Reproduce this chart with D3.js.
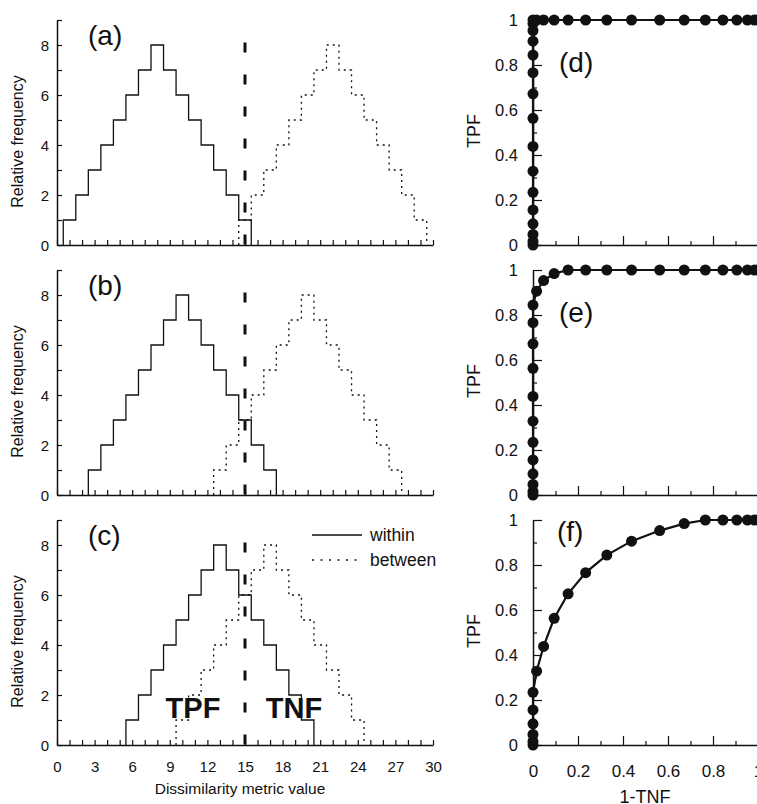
<!DOCTYPE html>
<html>
<head>
<meta charset="utf-8">
<script src="https://cdn.jsdelivr.net/npm/d3@7"></script>
<style>
  html, body { margin: 0; padding: 0; background: #fff; }
  svg { display: block; }
  text { font-family: "Liberation Sans", Arial, sans-serif; fill: #111; }
</style>
</head>
<body>
<svg id="fig" width="757" height="804"></svg>
<script>
// Histogram counts for bins centred on 0..30 (bin width 1)
const binCenters = [0,1,2,3,4,5,6,7,8,9,10,11,12,13,14,15,16,17,18,19,20,21,22,23,24,25,26,27,28,29,30];
const withinA  = [0,1,2,3,4,5,6,7,8,7,6,5,4,3,2,1,0,0,0,0,0,0,0,0,0,0,0,0,0,0,0];
const betweenA = [0,0,0,0,0,0,0,0,0,0,0,0,0,0,0,1,2,3,4,5,6,7,8,7,6,5,4,3,2,1,0];
const withinB  = [0,0,0,1,2,3,4,5,6,7,8,7,6,5,4,3,2,1,0,0,0,0,0,0,0,0,0,0,0,0,0];
const betweenB = [0,0,0,0,0,0,0,0,0,0,0,0,0,1,2,3,4,5,6,7,8,7,6,5,4,3,2,1,0,0,0];
const withinC  = [0,0,0,0,0,0,1,2,3,4,5,6,7,8,7,6,5,4,3,2,1,0,0,0,0,0,0,0,0,0,0];
const betweenC = [0,0,0,0,0,0,0,0,0,0,1,2,3,4,5,6,7,8,7,6,5,4,3,2,1,0,0,0,0,0,0];
const threshold = 15;

// ROC points: 1-TNF (x) and TPF (y)
const rocD_x = [0,0,0,0,0,0,0,0,0,0,0,0,0,0,0,0,0.016,0.047,0.094,0.156,0.234,0.328,0.438,0.563,0.672,0.766,0.844,0.906,0.953,0.984,1];
const rocD_y = [0,0.016,0.047,0.094,0.156,0.234,0.328,0.438,0.563,0.672,0.766,0.844,0.906,0.953,0.984,1,1,1,1,1,1,1,1,1,1,1,1,1,1,1,1];
const rocE_x = [0,0,0,0,0,0,0,0,0,0,0,0,0.016,0.047,0.094,0.156,0.234,0.328,0.438,0.563,0.672,0.766,0.844,0.906,0.953,0.984,1];
const rocE_y = [0,0.016,0.047,0.094,0.156,0.234,0.328,0.438,0.563,0.672,0.766,0.844,0.906,0.953,0.984,1,1,1,1,1,1,1,1,1,1,1,1];
const rocF_x = [0,0,0,0,0,0,0.016,0.047,0.094,0.156,0.234,0.328,0.438,0.563,0.672,0.766,0.844,0.906,0.953,0.984,1];
const rocF_y = [0,0.016,0.047,0.094,0.156,0.234,0.328,0.438,0.563,0.672,0.766,0.844,0.906,0.953,0.984,1,1,1,1,1,1];

const histXTicks = [0,3,6,9,12,15,18,21,24,27,30];
const histYTicks = [0,2,4,6,8];
const rocTicks = [0,0.2,0.4,0.6,0.8,1];

const panelsLeft = [
  {label: "(a)", within: withinA, between: betweenA, top: 0,   xLabels: false},
  {label: "(b)", within: withinB, between: betweenB, top: 250, xLabels: false},
  {label: "(c)", within: withinC, between: betweenC, top: 500, xLabels: true}
];
const panelsRight = [
  {label: "(d)", xs: rocD_x, ys: rocD_y, top: 0,   xLabels: false, lx: 559, ly: 72},
  {label: "(e)", xs: rocE_x, ys: rocE_y, top: 250, xLabels: false, lx: 559, ly: 322},
  {label: "(f)", xs: rocF_x, ys: rocF_y, top: 500, xLabels: true,  lx: 557, ly: 541}
];

const svg = d3.select("#fig");
const x = d3.scaleLinear().domain([0, 30]).range([57, 433]);
const xr = d3.scaleLinear().domain([0, 1]).range([533, 758]);

// Step outline of a histogram over its non-zero bins
function stepPath(counts, y) {
  const idx = counts.map((v, i) => i).filter(i => counts[i] > 0);
  const first = idx[0], last = idx[idx.length - 1];
  let p = d3.path();
  p.moveTo(x(binCenters[first] - 0.5), y(0));
  for (let i = first; i <= last; i++) {
    p.lineTo(x(binCenters[i] - 0.5), y(counts[i]));
    p.lineTo(x(binCenters[i] + 0.5), y(counts[i]));
  }
  p.lineTo(x(binCenters[last] + 0.5), y(0));
  return p.toString();
}

panelsLeft.forEach(pn => {
  const y = d3.scaleLinear().domain([0, 9]).range([pn.top + 245, pn.top + 20]);
  const g = svg.append("g");

  // histograms
  g.append("path").attr("d", stepPath(pn.between, y))
    .attr("fill", "none").attr("stroke", "#111").attr("stroke-width", 1.3)
    .attr("stroke-dasharray", "2,4");
  g.append("path").attr("d", stepPath(pn.within, y))
    .attr("fill", "none").attr("stroke", "#111").attr("stroke-width", 1.3);

  // threshold
  g.append("line")
    .attr("x1", x(threshold)).attr("x2", x(threshold))
    .attr("y1", y(8.1)).attr("y2", y(-0.12))
    .attr("stroke", "#111").attr("stroke-width", 3)
    .attr("stroke-dasharray", "10,22");

  // x axis
  const xAxis = d3.axisBottom(x).tickValues(d3.range(0, 31)).tickSizeInner(-5).tickSizeOuter(0)
    .tickFormat(d => (pn.xLabels && histXTicks.includes(d)) ? d : "");
  const gx = g.append("g").attr("transform", `translate(0,${y(0)})`).call(xAxis);
  gx.select(".domain").attr("stroke-width", 1.5).attr("stroke", "#111");
  gx.selectAll(".tick line").attr("stroke", "#111").attr("stroke-width", 1.2);
  gx.selectAll(".tick text").attr("font-size", 15).attr("dy", 0).attr("y", 26.5)
    .style("font-family", "Liberation Sans, Arial, sans-serif").attr("fill", "#111");

  // y axis
  const yAxis = d3.axisLeft(y).tickValues(d3.range(0, 10)).tickSizeInner(-5).tickSizeOuter(0)
    .tickFormat(d => histYTicks.includes(d) ? d : "");
  const gy = g.append("g").attr("transform", `translate(${x(0)},0)`).call(yAxis);
  gy.select(".domain").attr("stroke-width", 1.5).attr("stroke", "#111");
  gy.selectAll(".tick line").attr("stroke", "#111").attr("stroke-width", 1.2);
  gy.selectAll(".tick text").attr("font-size", 15).attr("x", -8).attr("dy", "0.35em")
    .style("font-family", "Liberation Sans, Arial, sans-serif").attr("fill", "#111");

  g.append("text").attr("transform", `translate(23,${pn.top + 141.5}) rotate(-90)`)
    .attr("text-anchor", "middle").attr("font-size", 16).text("Relative frequency");

  g.append("text").attr("x", 88).attr("y", pn.top + 45).attr("font-size", 28).text(pn.label);
});

// legend and region labels in (c)
const lg = svg.append("g");
lg.append("line").attr("x1", 312).attr("x2", 362).attr("y1", 535).attr("y2", 535)
  .attr("stroke", "#111").attr("stroke-width", 1.3);
lg.append("text").attr("x", 370).attr("y", 540.5).attr("font-size", 17.5).text("within");
lg.append("line").attr("x1", 312).attr("x2", 362).attr("y1", 560).attr("y2", 560)
  .attr("stroke", "#111").attr("stroke-width", 1.3).attr("stroke-dasharray", "2,6.5");
lg.append("text").attr("x", 370).attr("y", 566).attr("font-size", 17.5).text("between");
svg.append("text").attr("x", 193).attr("y", 717.5).attr("text-anchor", "middle")
  .attr("font-size", 29).attr("font-weight", "bold").text("TPF");
svg.append("text").attr("x", 294).attr("y", 717.5).attr("text-anchor", "middle")
  .attr("font-size", 29).attr("font-weight", "bold").text("TNF");

svg.append("text").attr("x", 240).attr("y", 793.5).attr("text-anchor", "middle")
  .attr("font-size", 15.5).text("Dissimilarity metric value");

// ROC panels
panelsRight.forEach(pn => {
  const y = d3.scaleLinear().domain([0, 1]).range([pn.top + 245, pn.top + 20]);
  const g = svg.append("g");
  const minor = d3.range(0, 11).map(i => i / 10);

  const xAxis = d3.axisBottom(xr).tickValues(minor).tickSizeOuter(0)
    .tickFormat(d => pn.xLabels && rocTicks.some(t => Math.abs(t - d) < 1e-9) ? d3.format("~g")(d) : "");
  const gx = g.append("g").attr("transform", `translate(0,${y(0)})`).call(xAxis);
  gx.select(".domain").attr("stroke-width", 1.5).attr("stroke", "#111");
  gx.selectAll(".tick line").attr("stroke", "#111").attr("stroke-width", 1.2)
    .attr("y2", (d, i) => i % 2 === 0 ? -9 : -4);
  gx.selectAll(".tick text").attr("font-size", 17).attr("dy", 0).attr("y", 31.5)
    .style("font-family", "Liberation Sans, Arial, sans-serif").attr("fill", "#111");

  const yAxis = d3.axisLeft(y).tickValues(minor).tickSizeOuter(0)
    .tickFormat(d => rocTicks.some(t => Math.abs(t - d) < 1e-9) ? d3.format("~g")(d) : "");
  const gy = g.append("g").attr("transform", `translate(${xr(0)},0)`).call(yAxis);
  gy.select(".domain").attr("stroke-width", 1.5).attr("stroke", "#111");
  gy.selectAll(".tick line").attr("stroke", "#111").attr("stroke-width", 1.2)
    .attr("x2", (d, i) => i % 2 === 0 ? 9 : 4);
  gy.selectAll(".tick text").attr("font-size", 16.5).attr("x", -15).attr("dy", "0.35em")
    .style("font-family", "Liberation Sans, Arial, sans-serif").attr("fill", "#111");

  const pts = pn.xs.map((v, i) => [v, pn.ys[i]]);
  g.append("path").datum(pts)
    .attr("d", d3.line().x(d => xr(d[0])).y(d => y(d[1])))
    .attr("fill", "none").attr("stroke", "#111").attr("stroke-width", 2.2);
  g.selectAll("circle").data(pts).join("circle")
    .attr("cx", d => xr(d[0])).attr("cy", d => y(d[1])).attr("r", 5.5).attr("fill", "#111");

  g.append("text").attr("transform", `translate(480,${pn.top + 131}) rotate(-90)`)
    .attr("text-anchor", "middle").attr("font-size", 18).text("TPF");
  g.append("text").attr("x", pn.lx).attr("y", pn.ly).attr("font-size", 28).text(pn.label);
});

svg.append("text").attr("x", 645).attr("y", 803).attr("text-anchor", "middle")
  .attr("font-size", 18).text("1-TNF");
</script>
</body>
</html>
